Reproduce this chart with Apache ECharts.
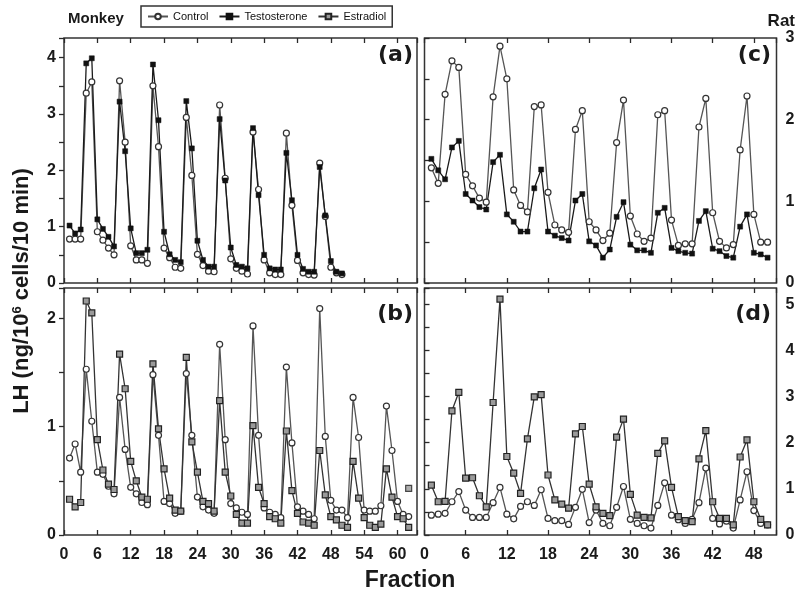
<!DOCTYPE html>
<html>
<head>
<meta charset="utf-8">
<script src="https://cdn.jsdelivr.net/npm/echarts@6/dist/echarts.min.js"></script>
<style>
html,body{margin:0;padding:0;background:#fff;}
#chart{width:807px;height:600px;}
</style>
</head>
<body>
<div id="chart"></div>
<script>
// ---------- DATA ----------
const monkeyFractionsA = Array.from({length: 50}, (_, i) => i + 1);
const monkeyFractionsB = Array.from({length: 62}, (_, i) => i + 1);
const ratFractions = Array.from({length: 50}, (_, i) => i + 1);

const monkeyControlA = [0.78,0.78,0.78,3.37,3.57,0.91,0.76,0.62,0.50,3.59,
  2.50,0.66,0.41,0.41,0.35,3.50,2.42,0.62,0.45,0.28,
  0.26,2.94,1.91,0.51,0.31,0.21,0.20,3.16,1.86,0.43,
  0.26,0.21,0.16,2.68,1.66,0.41,0.18,0.15,0.15,2.66,
  1.38,0.40,0.18,0.15,0.14,2.13,1.18,0.28,0.18,0.15];
const monkeyTestosteroneA = [1.02,0.88,0.95,3.90,3.99,1.13,0.96,0.82,0.65,3.22,
  2.34,0.97,0.53,0.53,0.59,3.88,2.89,0.91,0.51,0.41,
  0.37,3.23,2.39,0.75,0.41,0.29,0.29,2.91,1.82,0.63,
  0.32,0.29,0.26,2.75,1.56,0.50,0.26,0.24,0.24,2.31,
  1.47,0.50,0.25,0.20,0.20,2.06,1.20,0.39,0.20,0.17];

const monkeyControlB = [0.71,0.84,0.58,1.53,1.05,0.58,0.56,0.45,0.38,1.27,
  0.79,0.44,0.38,0.30,0.28,1.48,0.92,0.31,0.29,0.20,
  0.22,1.49,0.92,0.35,0.26,0.23,0.20,1.76,0.88,0.29,
  0.25,0.21,0.19,1.93,0.92,0.25,0.21,0.19,0.16,1.55,
  0.85,0.26,0.22,0.19,0.15,2.09,0.91,0.32,0.23,0.23,
  0.16,1.27,0.90,0.23,0.22,0.22,0.27,1.19,0.78,0.31,
  0.19,0.17];
const monkeyEstradiolB = [0.33,0.26,0.30,2.16,2.05,0.88,0.60,0.47,0.42,1.67,
  1.35,0.68,0.50,0.35,0.33,1.58,0.98,0.61,0.34,0.23,
  0.22,1.64,0.86,0.58,0.31,0.29,0.22,1.24,0.58,0.36,
  0.19,0.11,0.11,1.01,0.44,0.29,0.17,0.15,0.11,0.96,
  0.41,0.20,0.12,0.11,0.09,0.78,0.37,0.17,0.14,0.09,
  0.07,0.68,0.34,0.16,0.09,0.07,0.10,0.61,0.35,0.17,
  0.15,0.07];
const monkeyEstradiolBExtra = [[62, 0.43]];

const ratControlC = [1.41,1.22,2.31,2.72,2.64,1.33,1.19,1.04,0.99,2.28,
  2.90,2.50,1.14,0.95,0.87,2.16,2.18,1.11,0.71,0.65,
  0.62,1.88,2.11,0.75,0.65,0.52,0.61,1.72,2.24,0.82,
  0.60,0.51,0.55,2.06,2.11,0.77,0.46,0.48,0.48,1.91,
  2.26,0.86,0.51,0.43,0.47,1.63,2.29,0.84,0.50,0.50];
const ratTestosteroneC = [1.52,1.38,1.27,1.66,1.74,1.09,1.01,0.93,0.90,1.48,
  1.57,0.84,0.75,0.63,0.63,1.16,1.39,0.63,0.58,0.55,
  0.52,1.01,1.09,0.51,0.46,0.31,0.41,0.81,0.99,0.47,
  0.40,0.40,0.37,0.86,0.92,0.43,0.39,0.37,0.36,0.76,
  0.88,0.42,0.39,0.33,0.31,0.69,0.84,0.37,0.35,0.31];

const ratControlD = [0.43,0.45,0.47,0.72,0.94,0.54,0.38,0.38,0.38,0.70,
  1.03,0.45,0.35,0.62,0.72,0.64,0.98,0.36,0.31,0.31,
  0.23,0.60,0.99,0.27,0.54,0.25,0.20,0.60,1.05,0.34,
  0.25,0.20,0.15,0.64,1.13,0.43,0.33,0.25,0.34,0.70,
  1.45,0.36,0.24,0.30,0.15,0.76,1.37,0.53,0.25,0.22];
const ratEstradiolD = [1.08,0.72,0.73,2.69,3.09,1.23,1.24,0.85,0.61,2.87,
  5.11,1.70,1.34,0.90,2.08,2.99,3.04,1.30,0.76,0.67,
  0.58,2.19,2.35,1.10,0.61,0.47,0.42,2.12,2.51,0.88,
  0.43,0.38,0.37,1.77,2.04,1.03,0.40,0.31,0.29,1.65,
  2.26,0.72,0.36,0.36,0.22,1.69,2.06,0.72,0.34,0.22];

const seriesNames = ['Control', 'Testosterone', 'Estradiol'];
const panelLabels = ['(a)', '(b)', '(c)', '(d)'];
const monkeyXTicks = 6, ratXTicks = 6;

// ---------- STYLE ----------
const INK = '#2a2a2a';
const tickFont = {fontFamily: 'Liberation Sans, Arial, sans-serif', fontWeight: 'bold', fontSize: 16, color: '#1a1a1a'};

function pairs(xs, ys) { return xs.map((x, i) => [x, ys[i]]); }

const styles = {
  Control: {symbol: 'circle', symbolSize: 6, itemStyle: {color: '#fff', borderColor: '#333', borderWidth: 1.2}, lineStyle: {color: '#555', width: 1.3}},
  Testosterone: {symbol: 'rect', symbolSize: 5, itemStyle: {color: '#111', borderColor: '#111', borderWidth: 0.5}, lineStyle: {color: '#1a1a1a', width: 1.3}},
  Estradiol: {symbol: 'rect', symbolSize: 6, itemStyle: {color: '#9a9a9a', borderColor: '#222', borderWidth: 1.2}, lineStyle: {color: '#333', width: 1.3}}
};

function mkSeries(name, idx, data, extra) {
  const s = styles[name];
  return Object.assign({
    type: 'line', name: name, xAxisIndex: idx, yAxisIndex: idx,
    data: data, symbol: s.symbol, symbolSize: s.symbolSize,
    itemStyle: s.itemStyle, lineStyle: s.lineStyle, showAllSymbol: true,
    animation: false, emphasis: {disabled: true}
  }, extra || {});
}

const grids = [
  {left: 64, top: 38, width: 353, height: 245},
  {left: 64, top: 288, width: 353, height: 247},
  {left: 424.5, top: 38, width: 352, height: 245},
  {left: 424.5, top: 288, width: 352, height: 247}
].map(g => Object.assign(g, {show: true, borderColor: '#333', borderWidth: 1.5, backgroundColor: 'transparent'}));

const xMax = [63.5, 63.5, 51.3, 51.3];
const yMax = [4.35, 2.28, 3, 5.35];

const xAxes = [];
for (let i = 0; i < 4; i++) {
  ['bottom', 'top'].forEach(pos => {
    const showLab = pos === 'bottom' && (i === 1 || i === 3);
    xAxes.push({
      type: 'value', gridIndex: i, position: pos, min: 0, max: xMax[i], interval: i < 2 ? monkeyXTicks : ratXTicks,
      axisLine: {show: false}, splitLine: {show: false},
      axisTick: {show: true, inside: true, length: 5, lineStyle: {color: INK, width: 1.3}},
      axisLabel: {show: showLab, margin: 12, ...tickFont, formatter: v => (v % 6 === 0 ? String(v) : '')}
    });
  });
}
const yAxes = [0, 1, 2, 3].map(i => ({
  type: 'value', gridIndex: i, position: i < 2 ? 'left' : 'right', min: 0, max: yMax[i], interval: 0.5,
  axisLine: {show: false}, splitLine: {show: false},
  axisTick: {show: true, inside: false, length: 5, lineStyle: {color: INK, width: 1.3}},
  axisLabel: {margin: i < 2 ? 8 : 9, ...tickFont, formatter: v => (Number.isInteger(v) ? String(v) : '')}
}));

const series = [
  mkSeries('Control', 0, pairs(monkeyFractionsA, monkeyControlA)),
  mkSeries('Testosterone', 0, pairs(monkeyFractionsA, monkeyTestosteroneA)),
  mkSeries('Control', 1, pairs(monkeyFractionsB, monkeyControlB)),
  mkSeries('Estradiol', 1, pairs(monkeyFractionsB, monkeyEstradiolB)),
  mkSeries('Estradiol', 1, monkeyEstradiolBExtra, {type: 'scatter'}),
  mkSeries('Control', 2, pairs(ratFractions, ratControlC)),
  mkSeries('Testosterone', 2, pairs(ratFractions, ratTestosteroneC)),
  mkSeries('Control', 3, pairs(ratFractions, ratControlD)),
  mkSeries('Estradiol', 3, pairs(ratFractions, ratEstradiolD))
];
series.forEach(s => { s.xAxisIndex = s.xAxisIndex * 2; });

const bold = '"Liberation Sans", Arial, sans-serif';
const graphic = [
  {type: 'text', left: 68, top: 11, style: {text: 'Monkey', font: 'bold 15px ' + bold, fill: '#1a1a1a'}},
  {type: 'text', right: 12, top: 13, style: {text: 'Rat', font: 'bold 17px ' + bold, fill: '#1a1a1a'}},
  {type: 'text', x: 413, y: 55, style: {text: panelLabels[0], font: 'bold 22px "DejaVu Sans", sans-serif', fill: '#1a1a1a', align: 'right', verticalAlign: 'middle'}},
  {type: 'text', x: 413, y: 314, style: {text: panelLabels[1], font: 'bold 22px "DejaVu Sans", sans-serif', fill: '#1a1a1a', align: 'right', verticalAlign: 'middle'}},
  {type: 'text', x: 771, y: 55, style: {text: panelLabels[2], font: 'bold 22px "DejaVu Sans", sans-serif', fill: '#1a1a1a', align: 'right', verticalAlign: 'middle'}},
  {type: 'text', x: 771, y: 314, style: {text: panelLabels[3], font: 'bold 22px "DejaVu Sans", sans-serif', fill: '#1a1a1a', align: 'right', verticalAlign: 'middle'}},
  {type: 'text', x: 410, y: 581, style: {text: 'Fraction', font: 'bold 23px ' + bold, fill: '#1a1a1a', align: 'center', verticalAlign: 'middle'}},
  {type: 'text', x: 22, y: 291, rotation: Math.PI / 2,
   style: {text: '{a|LH (ng/10}{s|6}{a| cells/10 min)}', align: 'center', verticalAlign: 'middle',
     rich: {a: {font: 'bold 22px ' + bold, fill: '#1a1a1a'}, s: {font: 'bold 13px ' + bold, fill: '#1a1a1a', verticalAlign: 'top', padding: [0, 0, 9, 0]}}}}
];

const option = {
  animation: false,
  backgroundColor: '#fff',
  grid: grids,
  xAxis: xAxes,
  yAxis: yAxes,
  legend: {
    data: seriesNames, left: 141, top: 6, orient: 'horizontal',
    padding: [5, 6], itemGap: 10, itemWidth: 20, itemHeight: 7,
    borderColor: '#333', borderWidth: 1.5, borderRadius: 0,
    textStyle: {fontFamily: bold, fontSize: 11, color: '#111'}
  },
  graphic: graphic,
  series: series
};

const chart = echarts.init(document.getElementById('chart'), null, {renderer: 'canvas'});
chart.setOption(option);
</script>
</body>
</html>
